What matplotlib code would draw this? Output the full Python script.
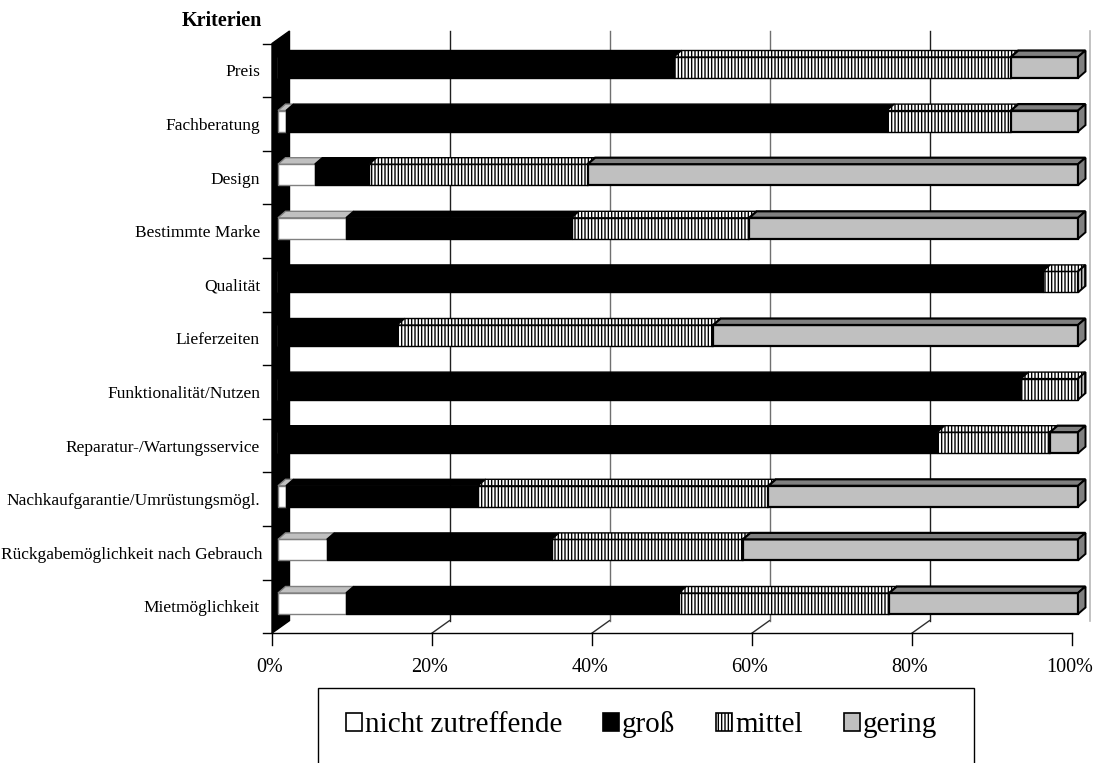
import matplotlib
matplotlib.use('Agg')
import matplotlib.pyplot as plt
from matplotlib.patches import Polygon, Rectangle, Patch

# ---------------- data ----------------
categories = ["Preis", "Fachberatung", "Design", "Bestimmte Marke", "Qualität",
              "Lieferzeiten", "Funktionalität/Nutzen", "Reparatur-/Wartungsservice",
              "Nachkaufgarantie/Umrüstungsmögl.", "Rückgabemöglichkeit nach Gebrauch",
              "Mietmöglichkeit"]
series_names = ["nicht zutreffende", "groß", "mittel", "gering"]
nicht = [0, 1.0, 4.6, 8.5, 0, 0, 0, 0, 1.0, 6.1, 8.5]
gross = [49.5, 75.1, 6.8, 28.2, 95.6, 14.9, 92.9, 82.4, 24.0, 28.1, 41.6]
mittel = [42.1, 15.5, 27.3, 22.2, 4.4, 39.5, 7.1, 14.1, 36.3, 23.9, 26.3]
gering = [8.4, 8.4, 61.3, 41.1, 0, 45.6, 0, 3.5, 38.7, 41.9, 23.6]
xticks = [0, 20, 40, 60, 80, 100]
axis_title = "Kriterien"

# ---------------- style ----------------
plt.rcParams['font.family'] = ['Liberation Serif', 'DejaVu Serif']
plt.rcParams['hatch.linewidth'] = 1.0

styles = [
    dict(face='white', edge='#808080', top='#c0c0c0', side='#c0c0c0', hatch=None, lw=1.0),
    dict(face='black', edge='black', top='black', side='black', hatch=None, lw=1.0),
    dict(face='white', edge='black', top='white', side='#c0c0c0', hatch='|||||', lw=1.0),
    dict(face='#c0c0c0', edge='black', top='#808080', side='#808080', hatch=None, lw=1.6),
]

W, H = 1093, 763
fig = plt.figure(figsize=(W / 100, H / 100), dpi=100)
ax = fig.add_axes([0, 0, 1, 1])
X0, SX = 278.0, 8.0     # pixel of 0 % (bar front) and px per percent
Y0, SY = 67.5, 53.6     # pixel of first category centre and px per category
ax.set_xlim(-X0 / SX, (W - X0) / SX)
ax.set_ylim((H - Y0) / SY, -Y0 / SY)
ax.axis('off')


def px(p):
    return (p - X0) / SX


def py(p):
    return (p - Y0) / SY


n = len(categories)
front_dx = px(272)
back_dx = px(289.5)
top_front = py(43.5)
top_back = py(31)
bot_front = top_front + n
bot_back = top_back + n

# wall (left side, black)
ax.add_patch(Polygon([(front_dx, top_front), (back_dx, top_back),
                      (back_dx, bot_back), (front_dx, bot_front)],
                     closed=True, facecolor='black', edgecolor='black', lw=1, zorder=1))

# back-wall gridlines and floor lines
grid_cols = {20: '#202020', 40: '#707070', 60: '#707070', 80: '#202020'}
for t in xticks:
    if 0 < t < 100:
        ax.plot([back_dx + t] * 2, [top_back, bot_back], color=grid_cols[t], lw=1, zorder=1)
        ax.plot([front_dx + t, back_dx + t], [bot_front, bot_back], color='#303030', lw=1, zorder=1)
    elif t == 100:
        ax.plot([back_dx + t] * 2, [top_back, bot_back], color='#b8b8b8', lw=1.2, zorder=1)
    ax.plot([front_dx + t] * 2, [bot_front, py(645)], color='black', lw=1, zorder=1)
    ax.text(front_dx + t - 2 / SX, py(667), f"{t}%", ha='center', va='center', fontsize=14.5)
ax.plot([front_dx, front_dx + 100], [bot_front] * 2, color='black', lw=1, zorder=1)

# category ticks and labels
for k in range(n + 1):
    ax.plot([px(263), front_dx], [top_front + k] * 2, color='black', lw=1, zorder=1)
cat_texts = []
for i, c in enumerate(categories):
    cat_texts.append(ax.text(px(260), i + 0.09, c, ha='right', va='center', fontsize=12.5))
ax.text(px(262), py(21), axis_title, ha='right', va='center', fontsize=14.5, fontweight='bold')

# bars (front faces through barh, 3D top and side faces from same data)
h = 21 / SY
ddx = 7.5 / SX
ddy = 6.5 / SY
idx = list(range(n))
all_series = [nicht, gross, mittel, gering]
lefts = [0.0] * n
for vals, st in zip(all_series, styles):
    ax.barh(idx, vals, left=lefts, height=h, color=st['face'], edgecolor=st['edge'],
            hatch=st['hatch'], lw=st['lw'], zorder=3)
    for i in idx:
        v = vals[i]
        if v <= 0:
            continue
        x0, x1 = lefts[i], lefts[i] + v
        yt = i - h / 2
        ax.add_patch(Polygon([(x0, yt), (x1, yt), (x1 + ddx, yt - ddy), (x0 + ddx, yt - ddy)],
                             closed=True, facecolor=st['top'], edgecolor=st['edge'],
                             hatch=st['hatch'], lw=st['lw'], zorder=3))
    lefts = [l + v for l, v in zip(lefts, vals)]

# right side faces
for i in idx:
    last = max(k for k in range(4) if all_series[k][i] > 0)
    st = styles[last]
    x = lefts[i]
    yt, yb = i - h / 2, i + h / 2
    ax.add_patch(Polygon([(x, yt), (x + ddx, yt - ddy), (x + ddx, yb - ddy), (x, yb)],
                         closed=True, facecolor=st['side'], edgecolor='black',
                         hatch=st['hatch'], lw=1.4, zorder=4))

# legend
box = Rectangle((318 / W, -0.05), (974 - 318) / W, (H - 688) / H + 0.05,
                transform=fig.transFigure, fill=False, edgecolor='black', lw=1, clip_on=False)
fig.patches.append(box)
handles = [Patch(facecolor=st['face'], edgecolor='black', hatch=st['hatch'], lw=1.2)
           for st in styles]
fig.legend(handles, series_names, loc='center', bbox_to_anchor=(641.5 / W, 1 - 725 / H),
           ncol=4, frameon=False, fontsize=21, handlelength=0.55, handleheight=0.6,
           handletextpad=0.1, columnspacing=1.4)

# long category labels that would leave the figure start at its left edge (as in Excel)
fig.canvas.draw()
renderer = fig.canvas.get_renderer()
for t in cat_texts:
    bb = t.get_window_extent(renderer=renderer)
    if bb.x0 < 1:
        t.set_ha('left')
        t.set_x(px(1))

fig.savefig('out.png', dpi=100)
